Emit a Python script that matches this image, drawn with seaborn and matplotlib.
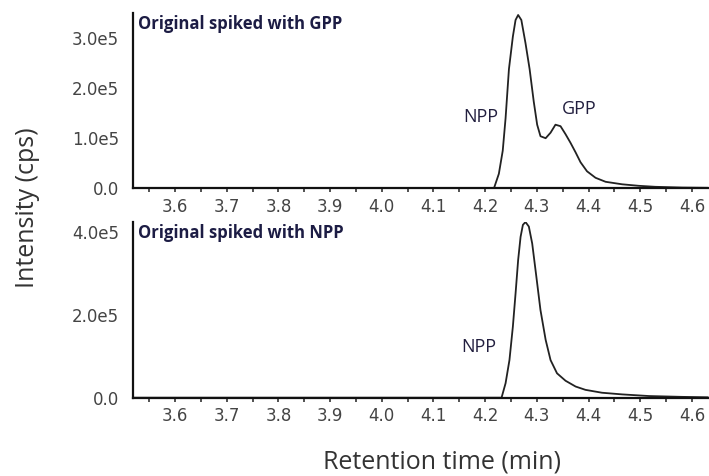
import numpy as np
import pandas as pd
import seaborn as sns
import matplotlib.pyplot as plt
from matplotlib.ticker import MultipleLocator, FuncFormatter

# --- data ---
top_time = [3.52, 4.217, 4.2265, 4.234, 4.2395, 4.246, 4.2536, 4.2588, 4.2638, 4.270,
            4.278, 4.286, 4.294, 4.3006, 4.307, 4.317, 4.3265, 4.336, 4.3458, 4.3555,
            4.365, 4.3748, 4.3845, 4.397, 4.4135, 4.433, 4.465, 4.497, 4.529, 4.581, 4.631]
top_int = [0, 0, 0.29e5, 0.75e5, 1.40e5, 2.38e5, 3.03e5, 3.36e5, 3.46e5, 3.36e5,
           2.90e5, 2.38e5, 1.73e5, 1.27e5, 1.04e5, 1.00e5, 1.11e5, 1.27e5, 1.24e5, 1.08e5,
           0.91e5, 0.72e5, 0.52e5, 0.34e5, 0.21e5, 0.13e5, 0.08e5, 0.05e5, 0.03e5, 0.015e5, 0.01e5]

bot_time = [3.52, 4.2317, 4.2395, 4.247, 4.2536, 4.2588, 4.2638, 4.2685, 4.273, 4.278,
            4.2845, 4.291, 4.299, 4.307, 4.317, 4.3265, 4.339, 4.3555, 4.375, 4.394,
            4.426, 4.465, 4.517, 4.581, 4.631]
bot_int = [0, 0, 0.35e5, 0.91e5, 1.72e5, 2.52e5, 3.33e5, 3.89e5, 4.18e5, 4.25e5,
           4.14e5, 3.73e5, 2.93e5, 2.12e5, 1.40e5, 0.91e5, 0.59e5, 0.41e5, 0.27e5, 0.19e5,
           0.12e5, 0.08e5, 0.04e5, 0.02e5, 0.01e5]

top_title = "Original spiked with GPP"
bot_title = "Original spiked with NPP"
top_yticks = [0, 1e5, 2e5, 3e5]
bot_yticks = [0, 2e5, 4e5]
xlabel = "Retention time (min)"
ylabel = "Intensity (cps)"

sns.set_theme(style="ticks")
plt.rcParams['font.family'] = ['DejaVu Sans']

fig = plt.figure(figsize=(7.09, 4.76), dpi=100)
ax1 = fig.add_axes([0.1876, 0.6044, 0.8124, 0.3683])
ax2 = fig.add_axes([0.1876, 0.1645, 0.8124, 0.3691])

df_top = pd.DataFrame({"t": top_time, "i": top_int})
df_bot = pd.DataFrame({"t": bot_time, "i": bot_int})
sns.lineplot(data=df_top, x="t", y="i", ax=ax1, color="#222222", lw=1.3)
sns.lineplot(data=df_bot, x="t", y="i", ax=ax2, color="#222222", lw=1.3)

def fmt(v, pos):
    if v == 0:
        return "0.0"
    e = int(np.floor(np.log10(abs(v))))
    return f"{v / 10**e:.1f}e{e}"

for ax, yt, ymax, title in [(ax1, top_yticks, 3.5e5, top_title),
                             (ax2, bot_yticks, 4.25e5, bot_title)]:
    ax.set_xlim(3.5188, 4.633)
    ax.set_ylim(0, ymax)
    ax.set_yticks(yt)
    ax.yaxis.set_major_formatter(FuncFormatter(fmt))
    ax.xaxis.set_major_locator(MultipleLocator(0.1))
    ax.xaxis.set_minor_locator(MultipleLocator(0.05))
    ax.xaxis.set_major_formatter(FuncFormatter(lambda v, p: f"{v:.1f}" if v > 3.55 else ""))
    ax.tick_params(axis="x", which="both", length=3, width=1.2, color="#333333",
                   labelsize=12, labelcolor="#444444", pad=4)
    ax.tick_params(axis="y", length=0, labelsize=12, labelcolor="#444444", pad=10)
    for s in ["top", "right"]:
        ax.spines[s].set_visible(False)
    for s in ["left", "bottom"]:
        ax.spines[s].set_linewidth(1.6)
        ax.spines[s].set_color("#111111")
    ax.set_xlabel("")
    ax.set_ylabel("")
    ax.text(0.009, 0.99, title, transform=ax.transAxes, ha="left", va="top",
            fontsize=12, fontweight="bold", color="#1c1c44", family="Open Sans")

ax1.text(4.192, 1.42e5, "NPP", ha="center", va="center", fontsize=13,
         color="#221f3f", family="Open Sans")
ax1.text(4.382, 1.58e5, "GPP", ha="center", va="center", fontsize=13,
         color="#221f3f", family="Open Sans")
ax2.text(4.188, 1.22e5, "NPP", ha="center", va="center", fontsize=13,
         color="#221f3f", family="Open Sans")

fig.text(0.039, 0.564, ylabel, rotation=90, ha="center", va="center",
         fontsize=18, color="#333333", family="Open Sans")
fig.text(0.623, 0.029, xlabel, ha="center", va="center",
         fontsize=18, color="#333333", family="Open Sans")

fig.savefig("out.png", dpi=100)
